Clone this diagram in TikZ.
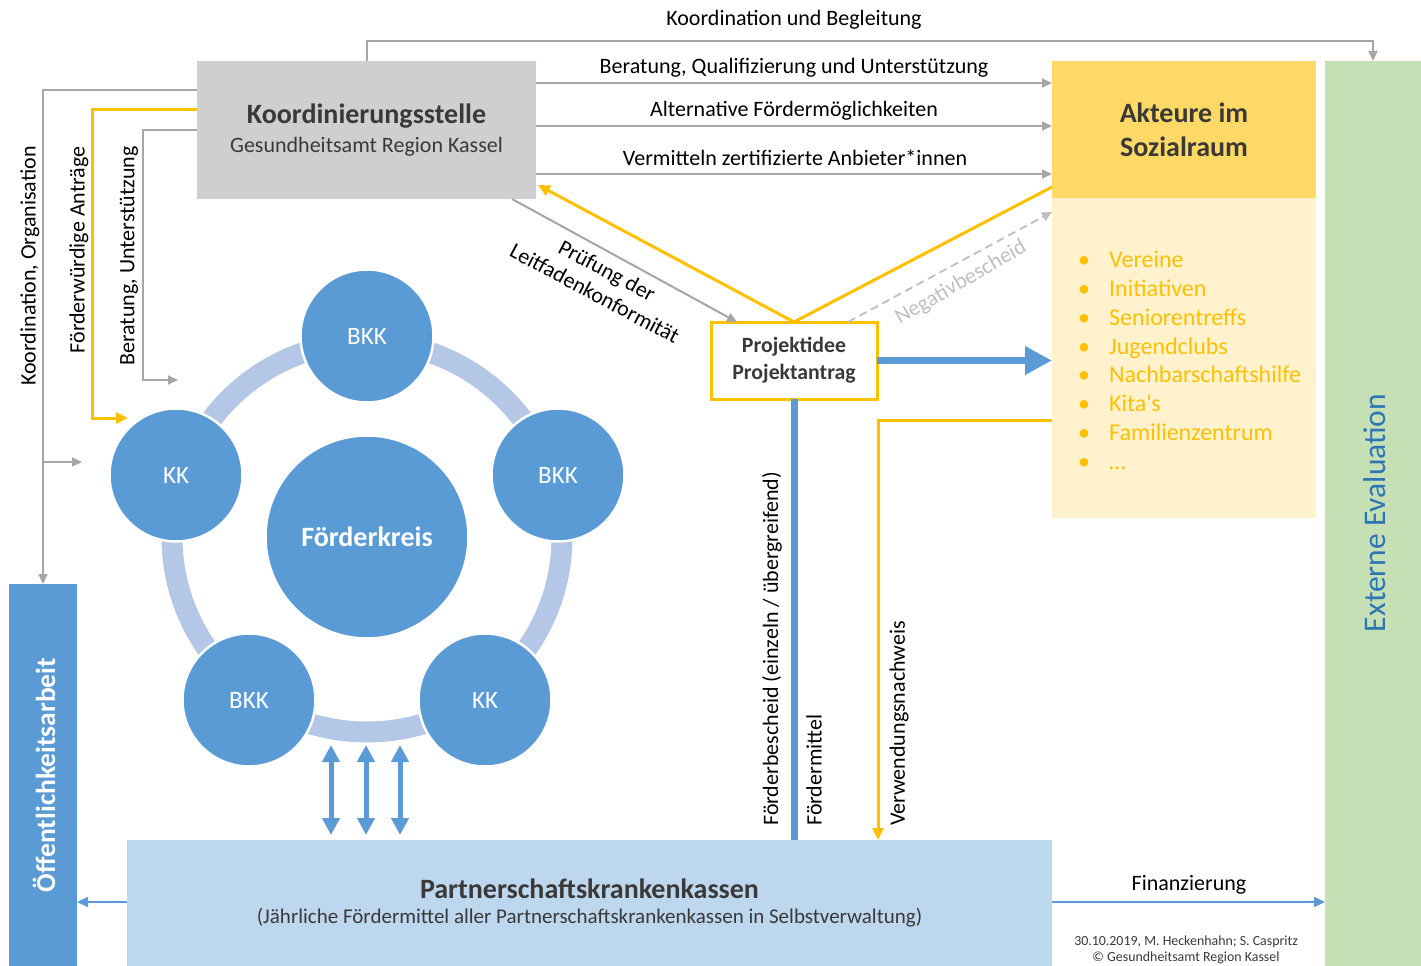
\documentclass[tikz,border=0pt]{standalone}
\usepackage{fontspec}
\setmainfont{Carlito}
\usetikzlibrary{arrows.meta}
\definecolor{kgray}{HTML}{D0CECE}
\definecolor{lgray}{HTML}{A6A6A6}
\definecolor{ngray}{HTML}{BFBFBF}
\definecolor{kblue}{HTML}{5B9BD5}
\definecolor{ringblue}{HTML}{B4C7E7}
\definecolor{pblue}{HTML}{BDD7EE}
\definecolor{kyellow}{HTML}{FFC000}
\definecolor{hyellow}{HTML}{FFD966}
\definecolor{byellow}{HTML}{FFF2CC}
\definecolor{kgreen}{HTML}{C5E0B4}
\definecolor{evalblue}{HTML}{2E75B6}
\definecolor{dtext}{HTML}{3B3838}
\newcommand\myLbl{\fontsize{22}{26}\selectfont}
\newcommand\myTitle{\fontsize{28}{32}\selectfont\bfseries}
\newcommand\mySub{\fontsize{22}{26}\selectfont}
\begin{document}
\begin{tikzpicture}[x=1pt,y=-1pt,
  lbl/.style={font=\myLbl, text=black, inner sep=0pt},
  box/.style={inner sep=0pt, outer sep=0pt},
  garrow/.style={draw=lgray, line width=2pt, -{Triangle[length=10pt,width=9pt]}},
  yarrow/.style={draw=kyellow, line width=3pt, -{Triangle[length=12pt,width=11pt]}},
  yline/.style={draw=kyellow, line width=3pt},
  barrow/.style={draw=kblue, line width=2pt, -{Triangle[length=11pt,width=10pt]}},
  dblarrow/.style={draw=kblue, line width=5pt, {Triangle[length=17pt,width=17pt]}-{Triangle[length=17pt,width=17pt]}},
  kcirc/.style={circle, fill=kblue, draw=white, line width=2.5pt, minimum size=133pt, inner sep=0pt, text=white, font=\fontsize{25}{30}\selectfont},
]
\useasboundingbox (0,0) rectangle (1421,966);

% boxes
\node[box, fill=kgray, minimum width=339pt, minimum height=138pt, align=center, text=dtext] (koord) at (366.5,130)
  {\raisebox{-4pt}{\myTitle Koordinierungsstelle}\\[8pt]{\mySub Gesundheitsamt Region Kassel}};
\node[box, fill=hyellow, minimum width=264pt, minimum height=137pt, align=center, text=dtext, font=\myTitle] (akt) at (1184,129.5)
  {Akteure im\\[2pt]Sozialraum};
\node[box, fill=byellow, minimum width=264pt, minimum height=320pt] (body) at (1184,358) {};
\node[anchor=north west, inner sep=0pt, text=kyellow, align=left, font=\fontsize{24}{28.8}\selectfont] (list) at (1078,251)
  {\makebox[31pt][l]{\textbullet}Vereine\\
   \makebox[31pt][l]{\textbullet}Initiativen\\
   \makebox[31pt][l]{\textbullet}Seniorentreffs\\
   \makebox[31pt][l]{\textbullet}Jugendclubs\\
   \makebox[31pt][l]{\textbullet}Nachbarschaftshilfe\\
   \makebox[31pt][l]{\textbullet}Kita‘s\\
   \makebox[31pt][l]{\textbullet}Familienzentrum\\
   \makebox[31pt][l]{\textbullet}…};
\node[box, fill=kgreen, minimum width=96pt, minimum height=905pt] (eval) at (1373,513.5) {};
\node[rotate=90, text=evalblue, font=\fontsize{31.5}{34}\selectfont, inner sep=0pt] (evaltxt) at (1375,513) {Externe Evaluation};
\node[box, fill=kblue, minimum width=68pt, minimum height=382pt] (oeff) at (43,775) {};
\node[rotate=90, text=white, font=\fontsize{27.5}{30}\selectfont\bfseries, inner sep=0pt] (oefftxt) at (44,775) {Öffentlichkeitsarbeit};
\node[box, fill=pblue, minimum width=925pt, minimum height=126pt, align=center, text=dtext] (partner) at (589.5,903)
  {\raisebox{-2pt}{\myTitle Partnerschaftskrankenkassen}\\[8pt]{\fontsize{21}{25}\selectfont (Jährliche Fördermittel aller Partnerschaftskrankenkassen in Selbstverwaltung)}};
\node[box, draw=kyellow, line width=3pt, fill=white, minimum width=166pt, minimum height=77pt, align=center, text=dtext, font=\fontsize{21.8}{27}\selectfont\bfseries] (proj) at (794,360.5)
  {Projektidee\\Projektantrag};

% Foerderkreis
\draw[ringblue, line width=21pt] (367,537) circle[radius=195];
\node[circle, fill=kblue, draw=white, line width=2.5pt, minimum size=203pt, inner sep=0pt, text=white, font=\fontsize{28}{32}\selectfont\bfseries] (fk) at (367,537) {Förderkreis};
\node[kcirc] (c1) at (367,336) {BKK};
\node[kcirc] (c2) at (558,475) {BKK};
\node[kcirc] (c3) at (485,700) {KK};
\node[kcirc] (c4) at (249,700) {BKK};
\node[kcirc] (c5) at (176,475) {KK};

% top connectors
\draw[garrow] (koord.north) -- ++(0,-20) -| (eval.north);
\node[lbl] (l0) at (794,20) {Koordination und Begleitung};
\draw[garrow] (koord.east |- 0,83) -- (akt.west |- 0,83);
\node[lbl] (l1) at (794,68) {Beratung, Qualifizierung und Unterstützung};
\draw[garrow] (koord.east |- 0,126) -- (akt.west |- 0,126);
\node[lbl] (l2) at (794,111) {Alternative Fördermöglichkeiten};
\draw[garrow] (koord.east |- 0,174) -- (akt.west |- 0,174);
\node[lbl] (l3) at (795,158) {Vermitteln zertifizierte Anbieter*innen};

% left connectors
\coordinate (ko1) at (82,462);
\draw[garrow] (koord.west |- 0,90) -| (oeff.north);
\draw[garrow] (43,462) -- (ko1);
\node[lbl, rotate=90] (l4) at (30,266) {Koordination, Organisation};
\coordinate (fa1) at (128,418);
\draw[yarrow] (koord.west |- 0,109) -- (92,109) -- (92,418) -- (fa1);
\node[lbl, rotate=90] (l5) at (79,250) {Förderwürdige Anträge};
\coordinate (bu1) at (178,380);
\draw[garrow] (koord.west |- 0,130) -- (143,130) -- (143,380) -- (bu1);
\node[lbl, rotate=90] (l6) at (129,256) {Beratung, Unterstützung};

% Projektidee connectors
\draw[yarrow] (proj.north) -- ([xshift=2pt,yshift=14pt]koord.south east);
\draw[yline] (proj.north) -- ([yshift=11pt]akt.south west);
\draw[garrow] ([xshift=-24pt]koord.south east) -- ([xshift=26pt]proj.north west);
\node[lbl, rotate=-28, align=center, font=\fontsize{22}{26}\selectfont] (l7) at (601,282) {Prüfung der\\Leitfadenkonformität};
\draw[draw=ngray, line width=1.8pt, dash pattern=on 8pt off 5pt, -{Triangle[length=10pt,width=9pt]}] ([xshift=-29pt]proj.north east) -- ([yshift=-14pt]body.north west);
\node[lbl, rotate=30, text=ngray] (l8) at (961,283) {Negativbescheid};
\draw[draw=kblue, line width=7pt, -{Triangle[length=27pt,width=27pt]}] (proj.east) -- (body.west |- proj.east);
\draw[draw=kblue, line width=7pt] (proj.south) -- (proj.south |- partner.north);
\node[lbl, rotate=90, anchor=west] (l9) at (772,826) {Förderbescheid (einzeln / übergreifend)};
\node[lbl, rotate=90, anchor=west] (l10) at (814,826) {Fördermittel};
\coordinate (vw1) at (878,420);
\draw[yarrow] (body.west |- vw1) -- (vw1) -- (vw1 |- partner.north);
\node[lbl, rotate=90, anchor=west] (l11) at (899,826) {Verwendungsnachweis};

% double arrows
\coordinate (d1a) at (331,745); \coordinate (d1b) at (331,835);
\coordinate (d2a) at (366,745); \coordinate (d2b) at (366,835);
\coordinate (d3a) at (400,745); \coordinate (d3b) at (400,835);
\draw[dblarrow] (d1a) -- (d1b);
\draw[dblarrow] (d2a) -- (d2b);
\draw[dblarrow] (d3a) -- (d3b);

% bottom connectors
\draw[barrow] (partner.west |- 0,902) -- (oeff.east |- 0,902);
\draw[barrow] (partner.east |- 0,902) -- (eval.west |- 0,902);
\node[lbl] (l12) at (1189,885) {Finanzierung};
\node[inner sep=0pt, align=center, text=dtext, font=\fontsize{13.9}{16.5}\selectfont] (foot) at (1186,950)
  {30.10.2019, M. Heckenhahn; S. Caspritz\\© Gesundheitsamt Region Kassel};
\end{tikzpicture}
\end{document}
